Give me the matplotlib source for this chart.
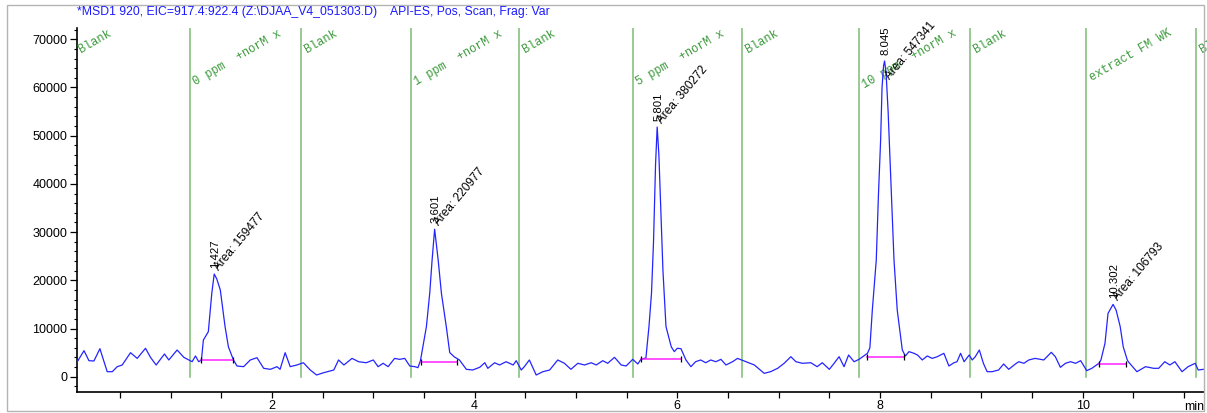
import matplotlib
matplotlib.use("Agg")
import matplotlib.pyplot as plt
from matplotlib.ticker import MultipleLocator, FixedLocator
from matplotlib.patches import Rectangle

# EIC trace (min, counts)
time = [0.079, 0.145, 0.194, 0.243, 0.302, 0.374, 0.424, 0.473, 0.522, 0.604,
        0.670, 0.752, 0.801, 0.857, 0.939, 0.982, 1.064, 1.130, 1.212, 1.245,
        1.277, 1.304, 1.323, 1.372, 1.406, 1.430, 1.455, 1.490, 1.537, 1.570, 1.620,
        1.655, 1.720, 1.786, 1.852, 1.918, 1.984, 2.050, 2.080, 2.130, 2.180,
        2.246, 2.310, 2.378, 2.440, 2.510, 2.610, 2.657, 2.710, 2.790, 2.855,
        2.930, 3.000, 3.047, 3.097, 3.146, 3.210, 3.260, 3.310, 3.360, 3.410,
        3.440, 3.465, 3.524, 3.557, 3.580, 3.605, 3.640, 3.672, 3.720, 3.754,
        3.800, 3.850, 3.918, 3.980, 4.050, 4.100, 4.130, 4.197, 4.246, 4.310,
        4.380, 4.410, 4.460, 4.490, 4.540, 4.607, 4.673, 4.740, 4.820, 4.886,
        4.950, 5.018, 5.084, 5.150, 5.200, 5.264, 5.313, 5.380, 5.446, 5.494,
        5.560, 5.610, 5.640, 5.690, 5.720, 5.745, 5.765, 5.785, 5.801, 5.818,
        5.838, 5.858, 5.888, 5.940, 5.970, 6.000, 6.036, 6.085, 6.134, 6.180,
        6.230, 6.280, 6.330, 6.380, 6.430, 6.480, 6.545, 6.594, 6.677, 6.760,
        6.810, 6.857, 6.920, 6.990, 7.054, 7.120, 7.170, 7.234, 7.317, 7.380,
        7.430, 7.500, 7.547, 7.596, 7.645, 7.690, 7.744, 7.793, 7.830, 7.876,
        7.900, 7.924, 7.963, 7.985, 8.006, 8.020, 8.035, 8.045, 8.060, 8.080,
        8.095, 8.138, 8.170, 8.220, 8.250, 8.286, 8.335, 8.370, 8.417, 8.466,
        8.515, 8.565, 8.630, 8.680, 8.730, 8.760, 8.795, 8.830, 8.880, 8.910,
        8.940, 8.980, 9.020, 9.057, 9.106, 9.170, 9.220, 9.270, 9.336, 9.370,
        9.420, 9.468, 9.530, 9.616, 9.690, 9.730, 9.780, 9.830, 9.880, 9.930,
        9.980, 10.040, 10.090, 10.160, 10.180, 10.220, 10.250, 10.300, 10.330, 10.370,
        10.400, 10.440, 10.450, 10.535, 10.620, 10.700, 10.750, 10.810, 10.860, 10.910,
        10.980, 11.040, 11.110, 11.140, 11.190]
counts = [3110, 5400, 3320, 3260, 5810, 1040, 1040, 2075, 2430, 4980,
          3800, 5890, 4020, 2430, 4710, 3470, 5540, 4020, 3110, 4300,
          3110, 3470, 7600, 9340, 17300, 21300, 20300, 18000, 10400, 6200, 3470,
          2220, 2080, 3470, 3940, 1740, 1530, 2080, 1530, 4980, 2080,
          2430, 2900, 1390, 350, 830, 1390, 3470, 2430, 3800, 3110,
          2900, 3470, 2080, 2780, 2080, 3800, 3600, 3800, 2220, 2080,
          1870, 3320, 10400, 17400, 24200, 30600, 24200, 17300, 10400, 5000,
          4100, 3470, 1530, 1390, 1950, 2900, 1740, 2900, 2430, 3110,
          2430, 3320, 1390, 2080, 3470, 350, 1040, 1390, 3470, 2780,
          1530, 2780, 2430, 2900, 2430, 3320, 2780, 4020, 2430, 2220,
          3600, 2640, 3600, 3900, 10400, 17300, 28000, 44000, 51800, 46000,
          34000, 22000, 10400, 6200, 5200, 5900, 5800, 3470, 2080, 3110,
          3470, 2900, 3470, 3110, 3600, 2430, 3110, 3800, 3110, 2430,
          1530, 700, 1040, 1740, 2780, 4150, 3110, 2780, 2900, 2080,
          2900, 1530, 2780, 4150, 2080, 4500, 3110, 3600, 4150, 4850,
          6000, 13800, 24200, 38000, 49100, 60000, 64500, 65500, 63000, 55000,
          47000, 24200, 13800, 5540, 4300, 5200, 4850, 4500, 3470, 4300,
          3800, 4150, 4850, 2220, 2900, 3110, 4850, 3110, 4500, 3470,
          4150, 5540, 2780, 1040, 1040, 1390, 2640, 1530, 2640, 3110,
          2780, 3470, 3800, 3470, 5060, 4150, 1950, 2780, 3110, 2780,
          3320, 1250, 1740, 2780, 3470, 6930, 13150, 15000, 13800, 10400,
          6200, 3470, 3110, 1040, 2080, 1740, 1740, 3110, 2430, 3110,
          1040, 2080, 2780, 1390, 1530]

# integrated peaks
peak_rt = [1.427, 3.601, 5.801, 8.045, 10.302]
peak_height = [21300, 30600, 51800, 65500, 15000]
peak_area = [159477, 220977, 380272, 547341, 106793]
base_start = [1.300, 3.475, 5.642, 7.876, 10.157]
base_end = [1.620, 3.826, 6.036, 8.236, 10.430]
base_level = [3470, 2990, 3740, 4150, 2700]

# injection events
event_time = [0.06, 1.19, 2.29, 3.37, 4.44, 5.56, 6.64, 7.79, 8.89, 10.03, 11.12]
event_label = ["Blank", "0 ppm  +norM x", "Blank", "1 ppm  +norM x", "Blank",
               "5 ppm  +norM x", "Blank", "10 ppm  +norM x", "Blank",
               "extract FM WK", "Blank"]

title = "*MSD1 920, EIC=917.4:922.4 (Z:\\DJAA_V4_051303.D)    API-ES, Pos, Scan, Frag: Var"

plt.rcParams['font.family'] = ['Liberation Sans', 'DejaVu Sans']

fig = plt.figure(figsize=(12.07, 4.13), dpi=100)
ax = fig.add_axes([77 / 1207, 21 / 413, 1127 / 1207, 364 / 413])

xmin, xmax = 0.076, 11.197
ymin, ymax = -3174, 72344
ax.set_xlim(xmin, xmax)

# event markers
for t in event_time:
    if xmin < t < xmax:
        ax.plot([t, t], [0, ymax], color='#7dbb74', lw=1.1, zorder=1)
for t, lab in zip(event_time, event_label):
    ax.annotate(lab, xy=(t, ymax), xytext=(6, -(7.2 + 3.56 * len(lab))),
                textcoords='offset pixels', rotation=30, rotation_mode='anchor',
                ha='left', va='baseline', color='#3d9a3d', fontsize=8.6,
                family='Liberation Mono', annotation_clip=False)

# trace
ax.plot(time, counts, color='#2424ff', lw=0.9, zorder=3)

# integration baselines + labels
for i in range(len(peak_rt)):
    ax.plot([base_start[i], base_end[i]], [base_level[i], base_level[i]],
            color='#ff20ff', lw=1.1, zorder=4)
    ax.plot([base_start[i], base_end[i]], [base_level[i], base_level[i]],
            ls='none', marker='|', ms=4, mew=0.9, color='black', zorder=5)
    ax.annotate("%.3f" % peak_rt[i], xy=(peak_rt[i], peak_height[i]),
                xytext=(1, 6), textcoords='offset pixels', rotation=90,
                ha='center', va='bottom', fontsize=8.2, annotation_clip=False)
    ystart = min(peak_height[i], 61000)
    ax.annotate("Area: %d" % peak_area[i], xy=(peak_rt[i], ystart),
                xytext=(5, 3), textcoords='offset pixels', rotation=50,
                rotation_mode='anchor', ha='left', va='baseline', fontsize=8.6,
                annotation_clip=False)

# axes styling
for s in ['top', 'right']:
    ax.spines[s].set_visible(False)
ax.spines['left'].set_linewidth(1.2)
ax.spines['bottom'].set_linewidth(1.2)
ax.xaxis.set_major_locator(FixedLocator([2, 4, 6, 8, 10]))
ax.xaxis.set_minor_locator(MultipleLocator(0.5))
ax.yaxis.set_major_locator(MultipleLocator(10000))
ax.yaxis.set_minor_locator(MultipleLocator(2000))
ax.tick_params(axis='x', which='both', length=4, width=0.9, labelsize=9, pad=2)
ax.tick_params(axis='y', which='major', length=5, width=0.9, labelsize=9, pad=2)
ax.tick_params(axis='y', which='minor', length=2.5, width=0.8)
ax.set_yticks([0, 10000, 20000, 30000, 40000, 50000, 60000, 70000])
ax.set_ylim(ymin, ymax)
ax.text(11.0, -0.04, "min", transform=ax.get_xaxis_transform(),
        ha='left', va='center', fontsize=9)

fig.text(77 / 1207, 1 - 12 / 413, title, color='#1a1aff', fontsize=8.8,
         ha='left', va='center')

# grey frame
fig.patches.append(Rectangle((7 / 1207, 2 / 413), 1197 / 1207, 406 / 413,
                             transform=fig.transFigure, fill=False,
                             edgecolor='#b4b4b4', lw=1.0))

fig.savefig('out.png', dpi=100)
